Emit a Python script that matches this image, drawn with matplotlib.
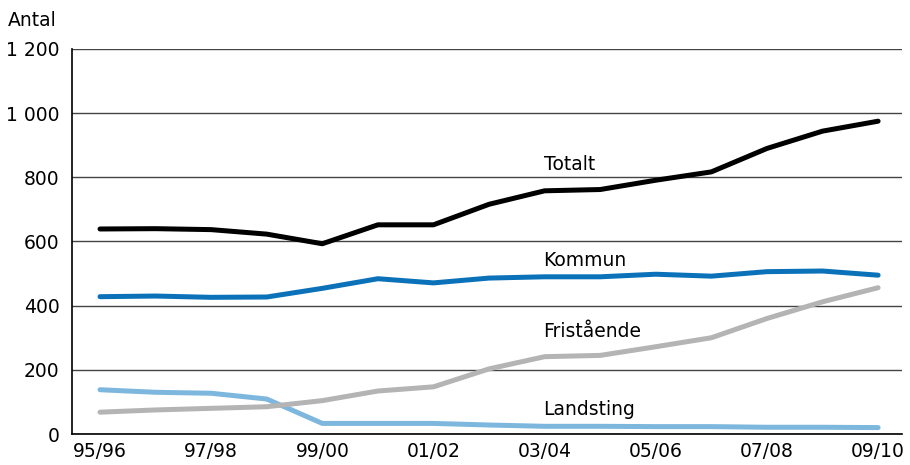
import matplotlib
matplotlib.use("Agg")
import matplotlib.pyplot as plt
from matplotlib.ticker import FuncFormatter

years = ["95/96", "96/97", "97/98", "98/99", "99/00", "00/01", "01/02", "02/03",
         "03/04", "04/05", "05/06", "06/07", "07/08", "08/09", "09/10"]
totalt = [639, 640, 637, 623, 593, 652, 652, 716, 758, 762, 791, 817, 890, 944, 975]
kommun = [428, 430, 426, 427, 454, 484, 471, 486, 490, 490, 498, 492, 506, 508, 495]
fristaende = [68, 75, 80, 85, 104, 134, 147, 203, 241, 245, 272, 300, 360, 412, 456]
landsting = [138, 130, 127, 109, 33, 33, 33, 28, 24, 24, 23, 23, 21, 21, 20]

plt.rcParams['font.family'] = ['DejaVu Sans']
fs = 13.5

fig = plt.figure(figsize=(9.1, 4.65), dpi=100)
ax = fig.add_axes([72/910, 1 - 434/465, (902 - 72)/910, (434 - 49)/465])

x = list(range(len(years)))
lw = 3.6
ax.plot(x, landsting, color="#7db7dd", lw=lw, solid_capstyle="round", solid_joinstyle="round", zorder=3)
ax.plot(x, fristaende, color="#b4b4b4", lw=lw, solid_capstyle="round", solid_joinstyle="round", zorder=3)
ax.plot(x, kommun, color="#0b72b9", lw=lw, solid_capstyle="round", solid_joinstyle="round", zorder=4)
ax.plot(x, totalt, color="#000000", lw=lw, solid_capstyle="round", solid_joinstyle="round", zorder=5)

ax.set_xlim(-0.504, 14.43)
ax.set_ylim(0, 1200)
ax.set_yticks(range(0, 1201, 200))
ax.yaxis.set_major_formatter(FuncFormatter(lambda v, p: f"{int(v):,}".replace(",", " ")))
ax.set_xticks(x[::2])
ax.set_xticklabels(years[::2])
ax.tick_params(axis="both", length=0, labelsize=fs)
ax.tick_params(axis="y", pad=9)
ax.tick_params(axis="x", pad=6)

ax.grid(axis="y", color="#444444", lw=1.0, zorder=1)
ax.set_axisbelow(True)
for s in ["top", "right"]:
    ax.spines[s].set_visible(False)
ax.spines["left"].set_color("black")
ax.spines["bottom"].set_color("black")
ax.spines["left"].set_linewidth(1.2)
ax.spines["bottom"].set_linewidth(1.2)

labels = [("Totalt", 841), ("Kommun", 542), ("Fristående", 318), ("Landsting", 75)]
for t, yv in labels:
    ax.text(7.98, yv, t, fontsize=fs, ha="left", va="center", zorder=6)

fig.text(8/910, 1 - 21/465, "Antal", fontsize=fs, ha="left", va="center")

fig.savefig("out.png", dpi=100)
